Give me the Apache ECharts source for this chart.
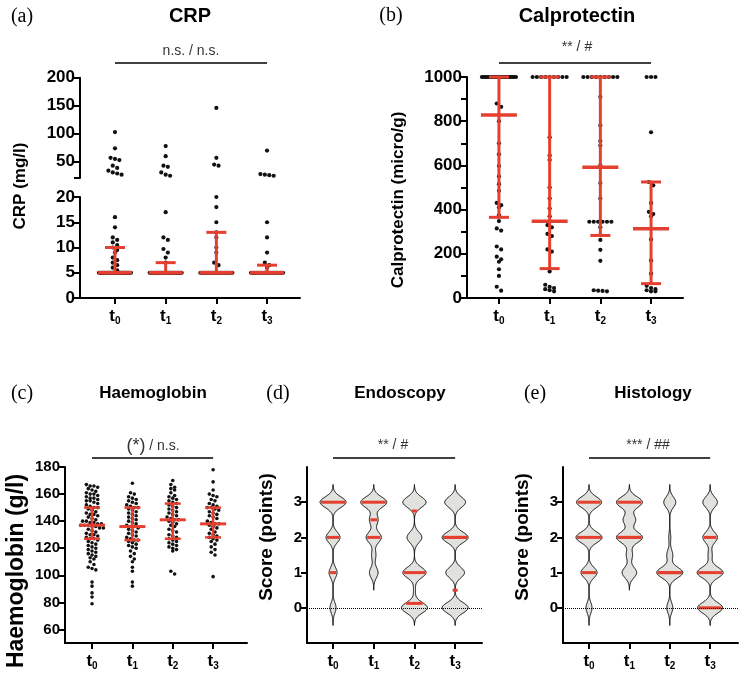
<!DOCTYPE html>
<html>
<head>
<meta charset="utf-8">
<script src="https://cdn.jsdelivr.net/npm/echarts@6/dist/echarts.min.js"></script>
<style>
  html, body { margin: 0; padding: 0; background: #fff; }
  #chart { width: 745px; height: 679px; }
</style>
</head>
<body>
<div id="chart"></div>
<script>
const FONT = "'Liberation Sans', Arial, sans-serif"
const SERIF = "'Liberation Serif', 'Times New Roman', serif"
const RED = '#e5402f'

const timePoints = ['0', '1', '2', '3']

// (a) CRP (mg/l), values below 5 are shown at 5
const crpT0 = [103, 74, 57, 55, 53, 43, 39, 34, 31, 29, 27, 16, 14, 12, 11.5, 11, 10.5, 10, 9.5, 9, 8, 7.5, 7, 6.5, 6, 5.5,
  5, 5, 5, 5, 5, 5, 5, 5, 5, 5, 5, 5, 5, 5, 5, 5, 5, 5, 5, 5, 5, 5, 5, 5, 5, 5, 5, 5, 5, 5, 5, 5, 5, 5, 5, 5]
const crpT1 = [78, 60, 43, 41, 31, 27, 25, 17, 12, 11.5, 9.7, 9, 8, 7,
  5, 5, 5, 5, 5, 5, 5, 5, 5, 5, 5, 5, 5, 5, 5, 5, 5, 5, 5, 5, 5, 5, 5, 5, 5, 5, 5, 5, 5, 5]
const crpT2 = [146, 57, 45, 43, 20, 18, 15, 13, 12, 10, 9, 7, 6.5,
  5, 5, 5, 5, 5, 5, 5, 5, 5, 5, 5, 5, 5, 5, 5, 5, 5, 5, 5, 5, 5, 5, 5, 5, 5]
const crpT3 = [70, 28, 27, 26, 25, 15, 12, 9, 7, 6.5, 6,
  5, 5, 5, 5, 5, 5, 5, 5, 5, 5, 5, 5, 5, 5, 5, 5, 5, 5, 5, 5, 5, 5, 5, 5, 5]
const crpQ1 = [5, 5, 5, 5]
const crpMedian = [5, 5, 5, 5]
const crpQ3 = [10, 7, 13, 6.5]

// (b) Calprotectin (micro/g), capped at 1000
const calT0 = [1000, 1000, 1000, 1000, 1000, 1000, 1000, 1000, 1000, 1000, 1000, 1000, 1000, 1000, 1000, 1000, 1000, 1000, 1000, 1000,
  880, 865, 800, 700, 650, 597, 550, 515, 485, 430, 420, 410, 375, 348, 315, 305, 233, 220, 187, 175, 164, 130, 100, 51, 33]
const calT1 = [1000, 1000, 1000, 1000, 1000, 1000, 1000, 1000, 1000,
  727, 645, 625, 500, 450, 405, 370, 330, 320, 290, 280, 220, 210, 120, 60, 50, 45, 40, 35, 30]
const calT2 = [1000, 1000, 1000, 1000, 1000, 1000, 1000, 1000, 1000,
  910, 780, 710, 690, 600, 520, 450, 345, 345, 345, 345, 345, 345, 320, 263, 218, 168, 35, 33, 32, 30]
const calT3 = [1000, 1000, 1000, 750, 525, 510, 430, 390, 380, 370, 265, 170, 110, 55, 45, 40, 35, 30, 30]
const calQ1 = [365, 133, 283, 65]
const calMedian = [828, 347, 592, 313]
const calQ3 = [1000, 1000, 1000, 525]

// (c) Haemoglobin (g/l)
const hgbT0 = [167, 166, 166, 165, 164, 163, 162, 161, 160, 160,
  159, 158, 157, 157, 156, 155, 155,
  154, 153, 152, 151, 150, 150, 149, 148, 147, 146, 145, 145,
  144, 143, 142, 141, 140, 140, 139, 139, 138, 138, 137, 137, 137, 136, 136, 135, 135,
  134, 133, 132, 131, 130, 130, 129, 128, 127, 127, 126, 125,
  124, 123, 122, 121, 120, 119, 118, 117, 116, 115,
  114, 113, 112, 110, 108, 106, 105, 104,
  95, 92, 87, 84, 79]
const hgbT1 = [168, 161, 160, 158, 157, 156, 155, 154, 153, 152, 151, 150, 150, 149, 148, 147, 146, 145, 144, 143,
  142, 141, 140, 139, 138, 137, 136, 136, 135, 134, 133, 132, 131, 130, 129, 128, 127, 126, 126, 125,
  124, 123, 122, 121, 120, 118, 116, 114, 112, 110, 106, 103, 95, 92]
const hgbT2 = [170, 167, 165, 164, 163, 161, 159, 158, 157, 156, 155, 154, 153, 152, 151, 150, 149, 148, 147, 146,
  145, 144, 143, 142, 141, 141, 140, 139, 138, 137, 136, 134, 133, 132, 130, 129, 128, 127, 126, 125,
  124, 123, 122, 121, 120, 119, 118, 103, 101]
const hgbT3 = [178, 169, 163, 160, 159, 158, 156, 155, 153, 152, 151, 150, 150, 149, 148, 147, 146, 145, 144, 143,
  142, 140, 139, 138, 138, 137, 136, 135, 134, 132, 131, 130, 129, 128, 127, 126, 125, 123, 121, 119, 117, 115, 99]
const hgbQ1 = [127, 126, 127, 128]
const hgbMedian = [137, 136, 141, 138]
const hgbQ3 = [150, 150, 153, 150]

// (d)/(e) score counts at each level
const scoreLevels = [0, 0.5, 1, 1.5, 2, 2.5, 3]
const endoCounts = [
  [3, 0, 4, 0, 7, 0, 13],
  [0, 0, 4, 2, 7, 4, 12],
  [14, 1, 12.5, 0, 8, 0, 12.5],
  [12.5, 0, 9, 0, 12.5, 0, 10]
]
const endoQ1 = [1, 2, 0.125, 0.5]
const endoMedian = [2, 2.5, 1, 2]
const endoQ3 = [3, 3, 2.75, 2]

const histoCounts = [
  [3, 0, 8, 0, 13, 0, 12.5],
  [0, 0, 7, 3, 12.5, 6, 12.5],
  [3, 0, 13, 3, 1, 0, 6],
  [12, 0, 12.5, 2, 7, 0, 7]
]
const histoQ1 = [1, 2, 1, 0]
const histoMedian = [2, 2, 1, 1]
const histoQ3 = [3, 3, 1, 2]

const crpGroups = [crpT0, crpT1, crpT2, crpT3]
const calGroups = [calT0, calT1, calT2, calT3]
const hgbGroups = [hgbT0, hgbT1, hgbT2, hgbT3]

const axisLineStyle = { color: '#000', width: 2 }
const timeRich = {
    t: { fontSize: 17, fontWeight: 'bold', fontFamily: FONT, color: '#000' },
    s: { fontSize: 10, fontWeight: 'bold', fontFamily: FONT, color: '#000', padding: [10, 0, 0, 0] }
}

function timeAxis(gridIndex, min, max, show) {
    return {
        type: 'value', gridIndex, min, max,
        axisLine: { show, onZero: false, lineStyle: axisLineStyle },
        axisTick: { show, customValues: [0, 1, 2, 3], length: 6, lineStyle: axisLineStyle },
        axisLabel: {
            show, customValues: [0, 1, 2, 3], margin: 8,
            formatter: v => `{t|t}{s|${timePoints[Math.round(v)]}}`,
            rich: timeRich
        },
        splitLine: { show: false }
    }
}

function valueAxis(gridIndex, min, max, labels, ticks, fontSize) {
    return {
        type: 'value', gridIndex, min, max,
        axisLine: { show: true, onZero: false, lineStyle: axisLineStyle },
        axisTick: { show: true, customValues: ticks, length: 6, lineStyle: axisLineStyle },
        axisLabel: {
            customValues: labels, margin: 5, fontSize, fontWeight: 'bold', fontFamily: FONT, color: '#000',
            formatter: v => String(v)
        },
        splitLine: { show: false }
    }
}

// rows of dots side by side, squeezed when a row gets too wide
function beeswarm(ys, r, maxHalf) {
    const order = ys.map((y, i) => i).sort((a, b) => ys[a] - ys[b])
    const xs = ys.map(() => 0)
    let row = []
    let rowTop = null
    const flush = () => {
        const m = row.length
        const step = m > 1 ? Math.min(2.1 * r, 2 * maxHalf / (m - 1)) : 0
        row.forEach((idx, j) => { xs[idx] = (j - (m - 1) / 2) * step })
        row = []
    }
    order.forEach(i => {
        if (rowTop === null || ys[i] - rowTop >= 2 * r) { flush(); rowTop = ys[i] }
        row.push(i)
    })
    flush()
    return xs
}

function swarmItem(groups, r, maxHalf, keep) {
    return function (params, api) {
        const cat = api.value(0)
        const cx = api.coord([cat, 0])[0]
        const ys = groups[cat].filter(keep).map(v => api.coord([cat, v])[1])
        const xs = beeswarm(ys, r, maxHalf)
        return {
            type: 'group',
            children: ys.map((y, i) => ({
                type: 'circle', shape: { cx: cx + xs[i], cy: y, r }, style: { fill: '#111' }
            }))
        }
    }
}

function errorBarItem(medHalf, capHalf, lw) {
    return function (params, api) {
        const x = api.value(0)
        const lo = api.coord([x, api.value(1)])
        const mid = api.coord([x, api.value(2)])
        const hi = api.coord([x, api.value(3)])
        const style = { stroke: RED, lineWidth: lw }
        const hline = (p, h, w) => ({ type: 'line', shape: { x1: p[0] - h, y1: p[1], x2: p[0] + h, y2: p[1] }, style: { stroke: RED, lineWidth: w } })
        return {
            type: 'group',
            children: [
                { type: 'line', shape: { x1: lo[0], y1: lo[1], x2: hi[0], y2: hi[1] }, style },
                hline(lo, capHalf, lw),
                hline(hi, capHalf, lw),
                hline(mid, medHalf, lw + 0.5)
            ]
        }
    }
}

const BW = 0.15
const TAIL = 0.5
const VIOLIN_HALF = 13

function violinItem(counts, q1, med, q3) {
    return function (params, api) {
        const i = api.value(0)
        const c = counts[i]
        const dens = y => c.reduce((s, n, k) => s + n * Math.exp(-0.5 * Math.pow((y - scoreLevels[k]) / BW, 2)), 0)
        const used = scoreLevels.filter((l, k) => c[k] > 0)
        const lo = used[0] - TAIL
        const hi = used[used.length - 1] + TAIL
        const ys = []
        for (let y = lo; y <= hi + 1e-9; y += 0.01) ys.push(y)
        const ds = ys.map(dens)
        const dMax = Math.max(...ds)
        const cx = api.coord([i, 0])[0]
        const left = ys.map((y, k) => [cx - ds[k] / dMax * VIOLIN_HALF, api.coord([i, y])[1]])
        const right = ys.map((y, k) => [cx + ds[k] / dMax * VIOLIN_HALF, api.coord([i, y])[1]]).reverse()
        const children = [{
            type: 'polygon', shape: { points: left.concat(right) },
            style: { fill: '#e1e1dd', stroke: '#000', lineWidth: 1 }
        }]
        ;[q1[i], med[i], q3[i]].forEach(v => {
            const y = api.coord([i, v])[1]
            const w = Math.max(dens(v) / dMax * VIOLIN_HALF - 1, 2.5)
            children.push({ type: 'line', shape: { x1: cx - w, y1: y, x2: cx + w, y2: y }, style: { stroke: RED, lineWidth: 3 } })
        })
        return { type: 'group', children }
    }
}

const zeroLine = (xAxisIndex, yAxisIndex) => ({
    type: 'line', xAxisIndex, yAxisIndex, data: [], z: 1,
    markLine: {
        silent: true, symbol: 'none', label: { show: false },
        lineStyle: { type: 'dotted', color: '#000', width: 1 },
        data: [{ yAxis: 0 }]
    }
})

const barData = (q1, med, q3) => med.map((m, i) => [i, q1[i], m, q3[i]])
const catData = groups => groups.map((g, i) => [i, Math.max(...g)])

const option = {
    animation: false,
    backgroundColor: '#fff',
    grid: [
        { left: 80, top: 77.7, width: 220, height: 100.3 },
        { left: 80, top: 197, width: 220, height: 101 },
        { left: 467, top: 77, width: 216, height: 221 },
        { left: 65, top: 467, width: 182, height: 176 },
        { left: 307, top: 467, width: 175, height: 176 },
        { left: 563, top: 467, width: 175, height: 176 }
    ],
    xAxis: [
        timeAxis(0, -0.69, 3.65, false),
        timeAxis(1, -0.69, 3.65, true),
        timeAxis(2, -0.63, 3.63, true),
        timeAxis(3, -0.67, 3.84, true),
        timeAxis(4, -0.64, 3.66, true),
        timeAxis(5, -0.645, 3.69, true)
    ],
    yAxis: [
        valueAxis(0, 21, 200, [50, 100, 150, 200], [21, 50, 100, 150, 200], 17),
        valueAxis(1, 0, 20, [0, 5, 10, 15, 20], [0, 5, 10, 15, 20], 17),
        valueAxis(2, 0, 1000, [0, 200, 400, 600, 800, 1000], [0, 100, 200, 300, 400, 500, 600, 700, 800, 900, 1000], 17),
        valueAxis(3, 50, 180, [60, 80, 100, 120, 140, 160, 180], [60, 80, 100, 120, 140, 160, 180], 15),
        valueAxis(4, -1, 4, [0, 1, 2, 3], [0, 1, 2, 3], 15),
        valueAxis(5, -1, 4, [0, 1, 2, 3], [0, 1, 2, 3], 15)
    ],
    series: [
        { type: 'custom', xAxisIndex: 0, yAxisIndex: 0, data: catData(crpGroups), renderItem: swarmItem(crpGroups, 2.1, 16, v => v > 20) },
        { type: 'custom', xAxisIndex: 1, yAxisIndex: 1, data: catData(crpGroups), renderItem: swarmItem(crpGroups, 2.1, 16, v => v <= 20) },
        { type: 'custom', xAxisIndex: 1, yAxisIndex: 1, z: 3, data: barData(crpQ1, crpMedian, crpQ3), renderItem: errorBarItem(17, 10, 3) },

        { type: 'custom', xAxisIndex: 2, yAxisIndex: 2, data: catData(calGroups), renderItem: swarmItem(calGroups, 2.1, 17, () => true) },
        { type: 'custom', xAxisIndex: 2, yAxisIndex: 2, z: 3, data: barData(calQ1, calMedian, calQ3), renderItem: errorBarItem(18, 10, 3) },

        { type: 'custom', xAxisIndex: 3, yAxisIndex: 3, data: catData(hgbGroups), renderItem: swarmItem(hgbGroups, 1.8, 14, () => true) },
        { type: 'custom', xAxisIndex: 3, yAxisIndex: 3, z: 3, data: barData(hgbQ1, hgbMedian, hgbQ3), renderItem: errorBarItem(13, 8, 2.5) },

        zeroLine(4, 4),
        { type: 'custom', xAxisIndex: 4, yAxisIndex: 4, z: 2, data: endoMedian.map((m, i) => [i, m]), renderItem: violinItem(endoCounts, endoQ1, endoMedian, endoQ3) },
        zeroLine(5, 5),
        { type: 'custom', xAxisIndex: 5, yAxisIndex: 5, z: 2, data: histoMedian.map((m, i) => [i, m]), renderItem: violinItem(histoCounts, histoQ1, histoMedian, histoQ3) }
    ]
}

const chart = echarts.init(document.getElementById('chart'))
chart.setOption(option)

// texts and significance brackets
const text = (x, y, str, font, extra) => ({
    type: 'text', x, y, ...(extra || {}),
    style: { text: str, font, fill: '#000', textAlign: 'center', textVerticalAlign: 'middle', ...((extra && extra.style) || {}) }
})
const vtext = (x, y, str, font) => ({
    type: 'text', x, y, rotation: Math.PI / 2,
    style: { text: str, font, fill: '#000', textAlign: 'center', textVerticalAlign: 'middle' }
})
const bracket = (gridIndex, y) => {
    const x1 = chart.convertToPixel({ xAxisIndex: gridIndex }, 0)
    const x2 = chart.convertToPixel({ xAxisIndex: gridIndex }, 3)
    return { type: 'line', shape: { x1, y1: y, x2, y2: y }, style: { stroke: '#000', lineWidth: 1.3 } }
}

const panelFont = `20px ${SERIF}`
const bigTitle = `bold 20px ${FONT}`
const smallTitle = `bold 17px ${FONT}`
const statFont = `14px ${FONT}`

chart.setOption({
    graphic: [
        text(22, 17, '(a)', panelFont),
        text(190, 16, 'CRP', bigTitle),
        text(191, 51, 'n.s. / n.s.', statFont, { style: { fill: '#333' } }),
        bracket(1, 63),
        vtext(20, 186, 'CRP (mg/l)', `bold 17px ${FONT}`),

        text(391, 16, '(b)', panelFont),
        text(577, 16, 'Calprotectin', bigTitle),
        text(577, 47, '** / #', statFont, { style: { fill: '#333' } }),
        bracket(2, 63),
        vtext(398, 200, 'Calprotectin (micro/g)', `bold 17px ${FONT}`),

        text(22, 394, '(c)', panelFont),
        text(153, 393, 'Haemoglobin', smallTitle),
        {
            type: 'text', x: 153, y: 446,
            style: {
                text: '{p|(*)} / n.s.', font: statFont, fill: '#333', textAlign: 'center', textVerticalAlign: 'middle',
                rich: { p: { fontSize: 18, fontFamily: FONT, fill: '#333' } }
            }
        },
        bracket(3, 458),
        vtext(17, 571, 'Haemoglobin (g/l)', `bold 23px ${FONT}`),

        text(278, 394, '(d)', panelFont),
        text(400, 393, 'Endoscopy', smallTitle),
        text(393, 445, '** / #', statFont, { style: { fill: '#333' } }),
        bracket(4, 458),
        vtext(267, 537, 'Score (points)', `bold 19px ${FONT}`),

        text(535, 394, '(e)', panelFont),
        text(653, 393, 'Histology', smallTitle),
        text(648, 445, '*** / ##', statFont, { style: { fill: '#333' } }),
        bracket(5, 458),
        vtext(523, 537, 'Score (points)', `bold 19px ${FONT}`)
    ]
})
</script>
</body>
</html>
